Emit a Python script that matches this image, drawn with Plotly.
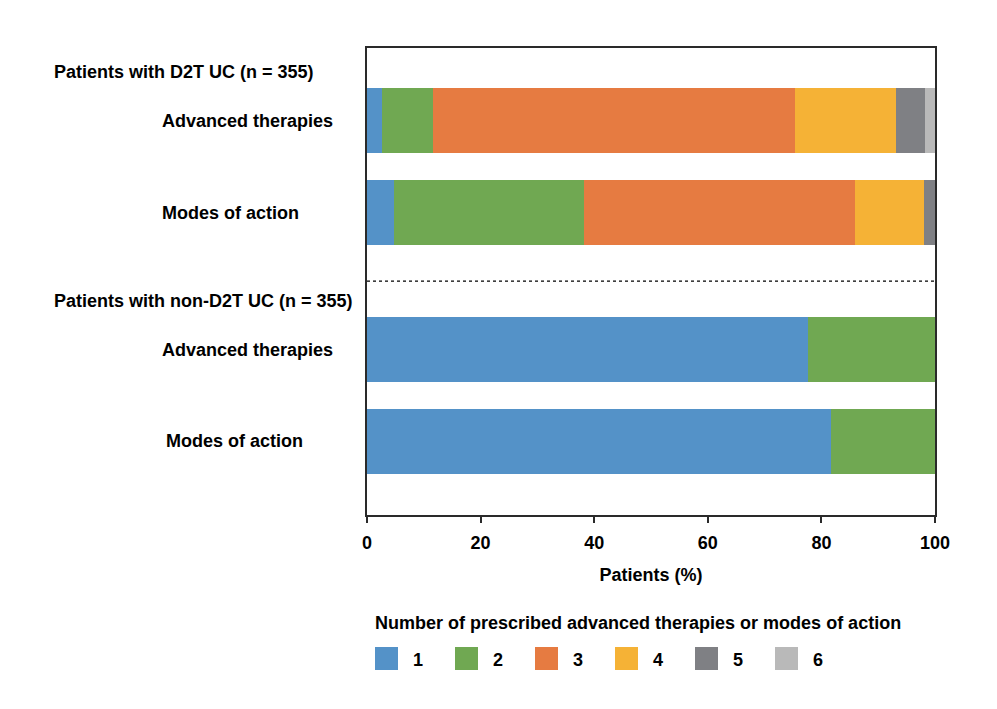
import plotly.graph_objects as go

# ---- data ----
bar_labels = ["Advanced therapies", "Modes of action", "Advanced therapies", "Modes of action"]
bar_pos = [0.0, 1.0, 2.49, 3.49]
group_labels = ["Patients with D2T UC (n = 355)", "Patients with non-D2T UC (n = 355)"]
series_names = ["1", "2", "3", "4", "5", "6"]
values = {
    "1": [2.6, 4.7, 77.7, 81.7],
    "2": [9.0, 33.5, 22.3, 18.3],
    "3": [63.7, 47.7, 0, 0],
    "4": [17.9, 12.2, 0, 0],
    "5": [5.1, 1.9, 0, 0],
    "6": [1.7, 0, 0, 0],
}
colors = ["#5492c8", "#70a852", "#e67b41", "#f5b236", "#7f8084", "#b9b9b9"]
x_ticks = [0, 20, 40, 60, 80, 100]
legend_title = "Number of prescribed advanced therapies or modes of action"
x_title = "Patients (%)"

FONT = "Liberation Sans, Arial, sans-serif"
OFF = 8  # page offset of the figure
W, H = 989, 701
PL, PR, PT, PB = 367, 935, 48, 515  # plot area in page pixels
L, T = PL - OFF, PT - OFF
R = W - (PR - OFF)
B = H - (PB - OFF)
pw = PR - PL
ph = PB - PT
AXC = "#2a2a2a"


def px_x(px):
    return (px - PL) / pw


def px_y(py):
    return (PB - py) / ph


def tfont():
    return dict(family=FONT, size=18, color="#000", weight="bold")


fig = go.Figure()
for name, col in zip(series_names, colors):
    fig.add_trace(go.Bar(
        y=bar_pos, x=values[name], orientation="h", name=name,
        marker=dict(color=col, line=dict(width=0)),
        width=0.707, showlegend=False, hoverinfo="x+name",
    ))

annotations = []
label_px = [160, 160, 160, 164]
for lab, pos, px in zip(bar_labels, bar_pos, label_px):
    annotations.append(dict(text=lab, x=px_x(px), xref="paper", y=pos, yref="y",
                            xanchor="left", yanchor="middle", showarrow=False, font=tfont()))
for lab, pos in zip(group_labels, [bar_pos[0], bar_pos[2]]):
    annotations.append(dict(text=lab, x=px_x(52), xref="paper", y=pos - 0.525, yref="y",
                            xanchor="left", yanchor="middle", showarrow=False, font=tfont()))
annotations.append(dict(text=legend_title, x=px_x(373), xref="paper", y=px_y(623), yref="paper",
                        xanchor="left", yanchor="middle", showarrow=False, font=tfont()))

shapes = []
sep = (bar_pos[1] + bar_pos[2]) / 2
shapes.append(dict(type="line", xref="x", yref="y", x0=0, x1=100, y0=sep, y1=sep,
                   line=dict(color="#000", width=1.3, dash="dot")))

for i, (name, col) in enumerate(zip(series_names, colors)):
    x0 = 375 + i * 80
    shapes.append(dict(type="rect", xref="paper", yref="paper",
                       x0=px_x(x0), x1=px_x(x0 + 23),
                       y0=px_y(670), y1=px_y(647),
                       fillcolor=col, line=dict(width=0)))
    annotations.append(dict(text=name, x=px_x(x0 + 36), xref="paper", y=px_y(660), yref="paper",
                            xanchor="left", yanchor="middle", showarrow=False, font=tfont()))

fig.update_layout(
    width=W, height=H, barmode="stack",
    margin=dict(l=L, r=R, t=T, b=B, autoexpand=False),
    paper_bgcolor="white", plot_bgcolor="white",
    font=dict(family=FONT, size=18, color="#000"),
    xaxis=dict(range=[0, 100], tickvals=x_ticks, ticks="outside", ticklen=6, tickwidth=1.8,
               tickcolor=AXC, showline=True, linecolor=AXC, linewidth=1.8, mirror=True,
               showgrid=False, zeroline=False, ticklabelstandoff=4,
               tickfont=tfont(),
               title=dict(text=x_title, standoff=17, font=tfont())),
    yaxis=dict(range=[4.29, -0.79], showticklabels=False, ticks="", showline=True,
               linecolor=AXC, linewidth=1.8, mirror=True, showgrid=False, zeroline=False),
    annotations=annotations, shapes=shapes, showlegend=False,
)

fig.write_html("out.html")
